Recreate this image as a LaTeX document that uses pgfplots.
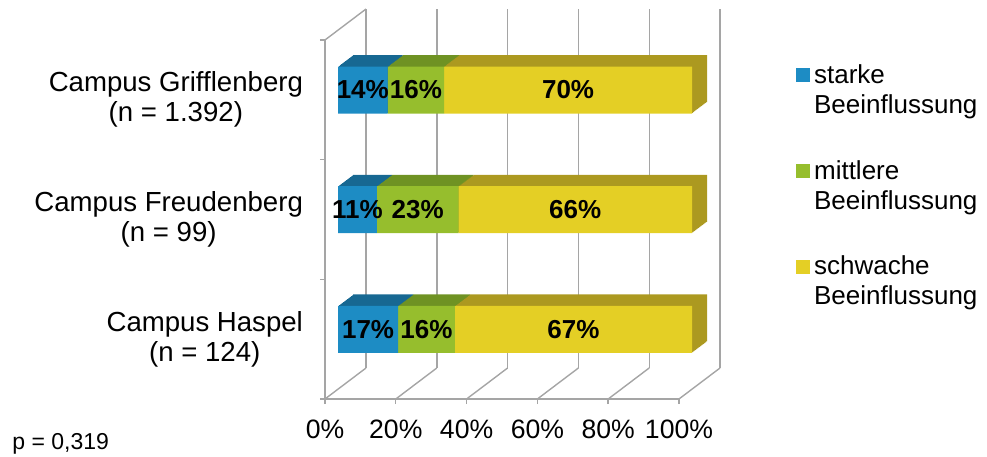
\documentclass[border=0pt]{standalone}
\usepackage{pgfplots}
\pgfplotsset{compat=1.18}
\usepackage{pgfplotstable}
\usepackage{fontspec}
\setmainfont{Liberation Sans}
\definecolor{cblue}{RGB}{29,140,196}
\definecolor{cgreen}{RGB}{150,190,45}
\definecolor{cyellow}{RGB}{228,207,37}
\definecolor{dblue}{RGB}{23,104,146}
\definecolor{dgreen}{RGB}{111,146,35}
\definecolor{dyellow}{RGB}{172,153,32}
\definecolor{gridgray}{RGB}{165,165,165}

\pgfplotstableread{
y starke mittlere schwache
0 17 16 67
1 11 23 66
2 14 16 70
}\datatable

\newcommand\fs{\fontsize{13}{15}\selectfont}

\pgfplotsset{
  base/.style={width=177pt,height=179.5pt,scale only axis,xmin=0,xmax=100,ymin=-0.5,ymax=2.5,enlargelimits=false,anchor=south west},
  bars/.style={base,xbar stacked,bar width=23.5pt,hide axis,clip=false},
  lsq/.style={legend image code/.code={\fill[##1] (0pt,4.15pt) rectangle (7pt,11.15pt);}},
}

\begin{document}
\begin{tikzpicture}
\useasboundingbox (0,0) rectangle (493.5pt,228pt);
% back wall grid
\begin{axis}[base, at={(183pt,44pt)}, axis line style={draw=none},
  xtick={0,20,40,60,80,100}, ytick=\empty, xticklabels={}, major tick length=0pt,
  xmajorgrids, grid style={gridgray,line width=0.7pt}]
\end{axis}
% front frame
\begin{axis}[base, at={(162.5pt,28.5pt)}, clip=false,
  axis x line*=bottom, axis y line*=left,
  axis line style={gridgray,line width=0.7pt},
  xtick={0,20,40,60,80,100},
  xticklabels={0\%,20\%,40\%,60\%,80\%,100\%},
  ytick={0,1,2},
  yticklabels={{Campus Haspel\\(n = 124)},{Campus Freudenberg\\(n = 99)},{Campus Grifflenberg\\(n = 1.392)}},
  minor ytick={-0.5,0.5,1.5,2.5},
  tick align=outside, major tick length=2.5pt, minor tick length=2.5pt,
  tick style={gridgray,line width=0.7pt},
  every major y tick/.append style={draw=none},
  xticklabel style={font=\fontsize{13.3}{15}\selectfont, yshift=-4.5pt},
  yticklabel style={align=center, xshift=-5pt, font=\fontsize{13.8}{15}\selectfont},
]
\pgfplotsinvokeforeach{0,20,40,60,80,100}{
  \draw[gridgray,line width=0.7pt] (axis cs:#1,-0.5) -- ++(20.5pt,15.5pt);
}
\draw[gridgray,line width=0.7pt] (axis cs:0,2.5) -- ++(20.5pt,15.5pt);
\end{axis}
% depth of the bars
\foreach \d in {14,13.5,...,7}{
  \pgfmathsetmacro\dx{162.5+\d}
  \pgfmathsetmacro\dy{28.5+0.756*\d}
  \begin{axis}[bars, at={(\dx pt,\dy pt)}]
  \addplot[fill=dblue,draw=none] table[x=starke,y=y]{\datatable};
  \addplot[fill=dgreen,draw=none] table[x=mittlere,y=y]{\datatable};
  \addplot[fill=dyellow,draw=none] table[x=schwache,y=y]{\datatable};
  \end{axis}
}
% front faces
\begin{axis}[bars, at={(169pt,33.4pt)},
  legend style={at={(1.276,0.928)}, anchor=north west, draw=none, fill=none,
    font=\fs, cells={align=left}, row sep=18pt},
  legend cell align=left]
\addplot[fill=cblue,draw=none,lsq] table[x=starke,y=y]{\datatable};
\addlegendentry{starke\\Beeinflussung}
\addplot[fill=cgreen,draw=none,lsq] table[x=mittlere,y=y]{\datatable};
\addlegendentry{mittlere\\Beeinflussung}
\addplot[fill=cyellow,draw=none,lsq] table[x=schwache,y=y]{\datatable};
\addlegendentry{schwache\\Beeinflussung}
\end{axis}
% value labels
\begin{axis}[base, hide axis, clip=false, at={(169pt,33.4pt)},
  /pgf/number format/assume math mode=true,
  nodes near coords={\pgfmathprintnumber{\pgfplotspointmeta}\%},
  nodes near coords style={anchor=center, font=\fontsize{13}{15}\selectfont\bfseries, text=black},
  point meta=explicit]
\addplot[draw=none,mark=none] table[x expr=\thisrow{starke}/2, y=y, meta=starke]{\datatable};
\addplot[draw=none,mark=none] table[x expr=\thisrow{starke}+\thisrow{mittlere}/2, y=y, meta=mittlere]{\datatable};
\addplot[draw=none,mark=none] table[x expr=\thisrow{starke}+\thisrow{mittlere}+\thisrow{schwache}/2, y=y, meta=schwache]{\datatable};
\end{axis}
\node[anchor=base west, font=\fontsize{11.5}{13}\selectfont, inner sep=0pt] at (6pt,3pt) {p = 0,319};
\end{tikzpicture}
\end{document}
